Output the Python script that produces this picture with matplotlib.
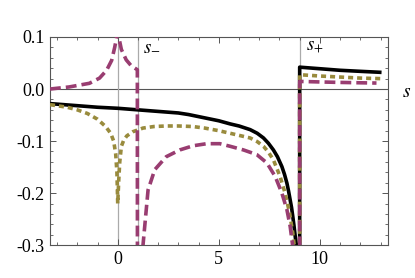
import colorsys
import matplotlib
matplotlib.use("Agg")
import matplotlib.pyplot as plt
from matplotlib.ticker import MultipleLocator, FormatStrFormatter

# values
black_x = [-3.35, -2.0, -1.0, 0.0, 1.0, 2.0, 3.0, 3.5, 4.0, 4.5, 5.0, 5.56, 6.0,
           6.55, 6.9, 7.21, 7.45, 7.7, 7.9, 8.12, 8.25, 8.37, 8.45, 8.53, 8.6,
           8.66, 8.72, 8.78, 8.83, 8.9, 9.0, 9.0, 10.0, 11.0, 12.0, 13.05]
black_y = [-0.028, -0.032, -0.035, -0.037, -0.040, -0.043, -0.046, -0.049, -0.053,
           -0.057, -0.061, -0.067, -0.071, -0.078, -0.085, -0.094, -0.104, -0.117,
           -0.130, -0.149, -0.164, -0.181, -0.196, -0.213, -0.228, -0.245, -0.263,
           -0.283, -0.30, -0.9, -0.9, 0.042, 0.039, 0.036, 0.034, 0.032]

olive_x = [-3.35, -2.5, -2.0, -1.5, -1.0, -0.6, -0.35, -0.2, -0.1, -0.04, 0.0,
           0.05, 0.1, 0.18, 0.3, 0.45, 0.75, 1.25, 1.8, 2.4, 3.0, 3.7, 4.3, 5.0,
           5.56, 6.0, 6.55, 6.9, 7.21, 7.45, 7.7, 8.03, 8.28, 8.5, 8.66, 8.73,
           8.9, 9.0, 9.0, 10.0, 11.0, 12.0, 13.0]
olive_y = [-0.030, -0.035, -0.040, -0.047, -0.058, -0.072, -0.085, -0.100, -0.125,
           -0.160, -0.220, -0.175, -0.140, -0.110, -0.098, -0.090, -0.082, -0.075,
           -0.072, -0.071, -0.071, -0.072, -0.075, -0.080, -0.085, -0.089, -0.094,
           -0.101, -0.110, -0.121, -0.136, -0.168, -0.200, -0.238, -0.277, -0.30,
           -0.9, -0.9, 0.0275, 0.025, 0.023, 0.021, 0.020]

mag_x = [-3.35, -2.4, -1.4, -0.9, -0.55, -0.3, -0.15, -0.05, 0.0, 0.05, 0.18,
         0.42, 0.66, 0.97, 0.98, 1.2, 1.25, 1.5, 1.83, 2.4, 3.07, 3.73, 4.4, 5.05,
         5.56, 6.22, 6.88, 7.38, 7.79, 8.12, 8.37, 8.53, 8.65, 8.8, 9.0, 9.0,
         10.0, 11.0, 12.0, 12.8]
mag_y = [0.000, 0.004, 0.011, 0.021, 0.036, 0.055, 0.080, 0.100, 0.140, 0.100,
         0.076, 0.056, 0.045, 0.037, -0.9, -0.9, -0.30, -0.194, -0.155, -0.130,
         -0.117, -0.109, -0.105, -0.105, -0.110, -0.117, -0.126, -0.142, -0.168,
         -0.200, -0.232, -0.264, -0.30, -0.9, -0.9, 0.0146, 0.0136, 0.0127,
         0.012, 0.0115]

x_ticks = [0, 5, 10]
y_ticks = [-0.3, -0.2, -0.1, 0.0, 0.1]
s_minus = 1.0
s_plus = 9.0

magenta = colorsys.hsv_to_rgb(0.906, 0.6, 0.6)
olive = colorsys.hsv_to_rgb(0.1421, 0.6, 0.6)

plt.rcParams['font.family'] = ['Liberation Serif', 'DejaVu Serif']
plt.rcParams['mathtext.fontset'] = 'stix'

fig = plt.figure(figsize=(4.15, 2.78), dpi=100)
ax = fig.add_axes([0.1205, 0.118, 0.8135, 0.749])

ax.axhline(0, color='#555555', lw=0.8, zorder=1)
for xv in (0, s_minus, s_plus):
    ax.axvline(xv, color='#aaaaaa', lw=0.9, zorder=1)

ax.plot(black_x, black_y, color='black', lw=2.6, solid_capstyle='butt',
        solid_joinstyle='round', zorder=3)
ax.plot(olive_x, olive_y, color=olive, lw=2.6, dashes=(1.4, 1.1), zorder=4)
ax.plot(mag_x, mag_y, color=magenta, lw=2.6, dashes=(3.0, 1.4), zorder=5)

ax.set_xlim(-3.35, 13.35)
ax.set_ylim(-0.3, 0.1)
ax.set_xticks(x_ticks)
ax.set_yticks(y_ticks)
ax.xaxis.set_minor_locator(MultipleLocator(1))
ax.yaxis.set_minor_locator(MultipleLocator(0.02))
ax.yaxis.set_major_formatter(FormatStrFormatter('%.1f'))
ax.tick_params(which='both', direction='in', top=True, right=True,
               color='#555555', labelsize=13, pad=4)
ax.tick_params(which='major', length=4, width=0.7)
ax.tick_params(which='minor', length=2.5, width=0.6)
for sp in ax.spines.values():
    sp.set_color('#555555')
    sp.set_linewidth(0.8)

ax.text(1.25, 0.081, r'$s_{-}$', fontsize=13.5, ha='left', va='center')
ax.text(9.3, 0.081, r'$s_{+}$', fontsize=13.5, ha='left', va='center')
ax.text(14.05, -0.006, r'$s$', fontsize=14, ha='left', va='center', clip_on=False)

fig.savefig('out.png', dpi=100)
